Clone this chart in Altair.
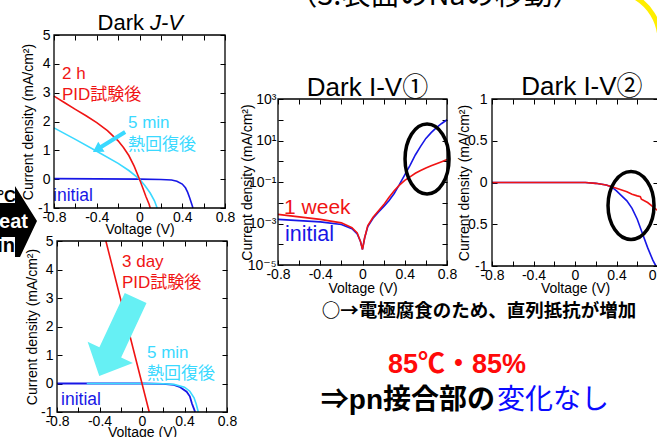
import altair as alt
import pandas as pd

SANS = "Liberation Sans"
JP = "Liberation Sans, Noto Sans CJK JP"
CJK = "Noto Sans CJK JP"
SUP = "Liberation Sans, DejaVu Sans"
RED = "#f01414"
BLUE = "#1717e6"
CYAN = "#3ad9ff"
CYAN_ARROW = "#66f0f4"

# ---------------- Dark J-V (2 h PID) ----------------
p1_init_v = [-0.8, -0.4, 0.0, 0.2, 0.3, 0.35, 0.4, 0.43, 0.45, 0.47, 0.49, 0.5]
p1_init_j = [0.02, 0.01, 0.0, -0.01, -0.03, -0.07, -0.17, -0.3, -0.45, -0.65, -0.88, -1.0]
p1_heat_v = [-0.8, -0.6, -0.4, -0.2, -0.1, 0.0, 0.05, 0.1, 0.14, 0.165]
p1_heat_j = [1.78, 1.38, 0.97, 0.55, 0.3, 0.0, -0.22, -0.48, -0.75, -1.0]
p1_pid_v = [-0.8, -0.7, -0.6, -0.5, -0.4, -0.3, -0.2, -0.15, -0.1, -0.05, 0.0, 0.03, 0.06, 0.09, 0.1]
p1_pid_j = [2.88, 2.65, 2.42, 2.2, 1.96, 1.68, 1.33, 1.1, 0.82, 0.45, 0.0, -0.3, -0.6, -0.87, -1.0]

# ---------------- Dark J-V (3 day PID) ----------------
p2_init_v = [-0.8, 0.0, 0.2, 0.3, 0.36, 0.42, 0.45, 0.47, 0.49, 0.5]
p2_init_j = [0.0, 0.0, -0.01, -0.05, -0.13, -0.29, -0.45, -0.7, -0.9, -1.0]
p2_heat_v = [-0.52, 0.0, 0.2, 0.3, 0.4, 0.45, 0.49, 0.51, 0.53]
p2_heat_j = [0.0, 0.0, -0.01, -0.03, -0.13, -0.27, -0.5, -0.72, -1.0]
p2_pid_v = [-0.34, 0.0, 0.068]
p2_pid_j = [5.0, 0.0, -1.0]

# ---------------- Dark I-V (1), |J| on log axis ----------------
p3_v = [-0.8, -0.6, -0.4, -0.2, -0.1, -0.05, -0.02, 0.0, 0.02, 0.05, 0.1, 0.15, 0.2, 0.25,
        0.3, 0.35, 0.4, 0.45, 0.5, 0.55, 0.6, 0.65, 0.7, 0.75, 0.8]
p3_init_j = [1.58e-3, 1.38e-3, 1.2e-3, 8.9e-4, 5.6e-4, 3.16e-4, 1.41e-4, 5.6e-5, 2.0e-4, 7.1e-4,
             1.78e-3, 3.5e-3, 6.5e-3, 1.26e-2, 2.8e-2, 7.6e-2, 0.219, 0.63, 2.0, 5.2, 12.6,
             24.0, 41.7, 66.0, 100.0]
p3_week_j = [2.75e-3, 2.09e-3, 1.58e-3, 1.07e-3, 6.3e-4, 3.5e-4, 1.41e-4, 5.6e-5, 2.0e-4, 7.9e-4,
             2.0e-3, 4.0e-3, 7.9e-3, 1.78e-2, 3.8e-2, 7.1e-2, 0.12, 0.178, 0.263, 0.355, 0.468,
             0.6, 0.76, 0.95, 1.2]

# ---------------- Dark I-V (2), linear axis ----------------
p4_init_v = [-0.8, 0.1, 0.2, 0.3, 0.35, 0.4, 0.45, 0.5, 0.55, 0.6, 0.65, 0.7, 0.75, 0.78]
p4_init_j = [0.0, 0.0, -0.01, -0.03, -0.05, -0.1, -0.16, -0.22, -0.31, -0.44, -0.61, -0.78, -0.93, -1.0]
p4_week_v = [-0.8, 0.1, 0.2, 0.3, 0.4, 0.5, 0.55, 0.6, 0.63, 0.64, 0.7, 0.75, 0.8]
p4_week_j = [0.0, 0.0, -0.01, -0.03, -0.07, -0.11, -0.14, -0.16, -0.17, -0.2, -0.24, -0.29, -0.34]

# annotation labels: (voltage, current density, text)
p1_red_labels = [(-0.725, 3.647, "2 h"), (-0.725, 2.902, "PID試験後")]
p1_cyan_labels = [(-0.108, 1.948, "5 min"), (-0.108, 1.185, "熱回復後")]
p1_blue_labels = [(-0.809, -0.584, "initial")]
p2_red_labels = [(-0.188, 4.263, "3 day"), (-0.188, 3.526, "PID試験後")]
p2_cyan_labels = [(0.047, 1.070, "5 min"), (0.047, 0.333, "熱回復後")]
p2_blue_labels = [(-0.762, -0.579, "initial")]
p3_red_labels = [(-0.743, 5.58e-3, "1 week")]
p3_blue_labels = [(-0.734, 2.79e-4, "initial")]

XT = [-0.8, -0.6, -0.4, -0.2, 0, 0.2, 0.4, 0.6, 0.8]
YT_JV = [-1, 0, 1, 2, 3, 4, 5]
YT_LOG = [1e-5, 1e-4, 1e-3, 1e-2, 1e-1, 1, 10, 100, 1000]
YT_IV = [-1, -0.5, 0, 0.5, 1]

XLAB = "abs(round(datum.value * 10)) % 4 == 0 ? '' + datum.value : ''"
NUMLAB = "'' + datum.value"
E = "round(log(datum.value) / LN10)"
LOGLAB = (f"{E} == 3 ? '10³' : {E} == 1 ? '10¹' : {E} == -1 ? '10⁻¹' : "
          f"{E} == -3 ? '10⁻³' : {E} == -5 ? '10⁻⁵' : ''")

ELLIPSE_3 = "M-22,0A22,35,0,1,0,22,0A22,35,0,1,0,-22,0Z"
ELLIPSE_4 = "M-23,0A23,34,0,1,0,23,0A23,34,0,1,0,-23,0Z"
BIG_ARROW = "M-12,-43L12,-43L12,17L25,17L0,43L-25,17L-12,17Z"
THIN_ARROW = "M-19,-2L9,-2L9,-6L19,0L9,6L9,2L-19,2Z"
HEAT_BADGE = "M5,-35L27,0L10,36L5,36L5,16L-40,16L-40,-18L5,-18Z"
YELLOW_ARC = "M23,-44A50,50,0,0,1,50,0"

# whole slide canvas and the pixel box of each panel (left, right, top, bottom)
W, H = 657, 437
BOX1 = (54, 225, 35, 208)
BOX2 = (57, 227, 241, 412)
BOX3 = (278, 447, 99, 265)
BOX4 = (492, 658, 99, 266)
NOTE_BOX = (278, 657, 298, 437)


def xscale(box):
    return alt.Scale(domain=[-0.8, 0.8], range=[box[0], box[1]], nice=False, zero=False)


def yscale(box, lo, hi, kind="linear"):
    return alt.Scale(type=kind, domain=[lo, hi], range=[box[3], box[2]], nice=False, zero=False)


def ax_bottom(box, title_y):
    base = box[3] - 5
    return alt.Axis(orient="bottom", values=XT, labelExpr=XLAB, offset=base - H, tickSize=5,
                    domain=False, labelPadding=2, labelFlush=False, labelOverlap=False,
                    title="Voltage (V)", titleX=(box[0] + box[1]) / 2, titleY=title_y - base,
                    titleBaseline="middle")


def ax_left(box, values, expr, title_x, pad, font=SANS):
    base = box[0] + 5
    return alt.Axis(orient="left", values=values, labelExpr=expr, offset=-base, tickSize=5,
                    domain=False, labelPadding=pad, labelFlush=False, labelOverlap=False,
                    labelFont=font, title="Current density (mA/cm²)", titleX=title_x - base,
                    titleY=(box[2] + box[3]) / 2, titleBaseline="middle")


def ax_top(box):
    return alt.Axis(orient="top", values=XT, labels=False, offset=-(box[2] + 5), tickSize=5,
                    domain=False, title="")


def ax_right(box, values):
    return alt.Axis(orient="right", values=values, labels=False, offset=(box[1] - 5) - W,
                    tickSize=5, domain=False, title="")


def line(v, j, color, xs, ys, xaxis=None, yaxis=None, width=1.6):
    df = pd.DataFrame({"v": v, "j": j})
    return alt.Chart(df).mark_line(color=color, strokeWidth=width).encode(
        x=alt.X("v:Q", scale=xs, axis=xaxis), y=alt.Y("j:Q", scale=ys, axis=yaxis))


def texts(rows, xs, ys, color, size, weight="normal", align="left", baseline="middle",
          style="normal", font=JP, dx=0, xaxis=None, yaxis=None):
    df = pd.DataFrame(rows, columns=["v", "j", "t"])
    return alt.Chart(df).mark_text(color=color, fontSize=size, fontWeight=weight, align=align,
                                   baseline=baseline, fontStyle=style, font=font, dx=dx).encode(
        x=alt.X("v:Q", scale=xs, axis=xaxis), y=alt.Y("j:Q", scale=ys, axis=yaxis), text="t:N")


def shape(v, j, path, xs, ys, **mark):
    df = pd.DataFrame({"v": [v], "j": [j]})
    return alt.Chart(df).mark_point(shape=path, size=4, opacity=1, **mark).encode(
        x=alt.X("v:Q", scale=xs, axis=None), y=alt.Y("j:Q", scale=ys, axis=None))


def frame(xlo, xhi, ylo, yhi, xs, ys):
    df = pd.DataFrame({"v": [xlo], "v2": [xhi], "j": [ylo], "j2": [yhi]})
    return alt.Chart(df).mark_rect(fill="transparent", stroke="black", strokeWidth=1.3).encode(
        x=alt.X("v:Q", scale=xs, axis=None), x2="v2:Q",
        y=alt.Y("j:Q", scale=ys, axis=None), y2="j2:Q")


def panel(*layers):
    return alt.layer(*layers).resolve_axis(x="independent", y="independent")


# ---- Dark J-V after 2 h PID ----
xs, ys = xscale(BOX1), yscale(BOX1, -1, 5)
p1 = panel(
    line(p1_init_v, p1_init_j, BLUE, xs, ys, xaxis=ax_bottom(BOX1, 229),
         yaxis=ax_left(BOX1, YT_JV, NUMLAB, 28, 4)),
    line(p1_heat_v, p1_heat_j, CYAN, xs, ys),
    line(p1_pid_v, p1_pid_j, RED, xs, ys),
    shape(-0.285, 1.289, THIN_ARROW, xs, ys, filled=True, color=CYAN, angle=148),
    texts(p1_red_labels, xs, ys, RED, 17, xaxis=ax_top(BOX1), yaxis=ax_right(BOX1, YT_JV)),
    texts(p1_cyan_labels, xs, ys, CYAN, 17),
    texts(p1_blue_labels, xs, ys, BLUE, 17.5),
    texts([(0.098, 5.173, "Dark")], xs, ys, "black", 22, align="right",
          baseline="alphabetic", font=SANS, dx=-6),
    texts([(0.098, 5.173, "J-V")], xs, ys, "black", 22, align="left",
          baseline="alphabetic", style="italic", font=SANS),
    shape(-1.2117, -1.451, HEAT_BADGE, xs, ys, filled=True, color="black"),
    texts([(-1.156, -0.792, "85°C")], xs, ys, "black", 16.5,
          weight="bold", align="right", baseline="alphabetic", font=SANS),
    texts([(-1.165, -2.526, "5 min")], xs, ys, "black", 20,
          weight="bold", align="right", baseline="alphabetic", font=SANS),
    texts([(-1.043, -1.694, "Heat")], xs, ys, "white", 20, weight="bold", align="right",
          baseline="alphabetic", font=SANS),
    frame(-0.8, 0.8, -1, 5, xs, ys),
)

# ---- Dark J-V after 3 day PID ----
xs, ys = xscale(BOX2), yscale(BOX2, -1, 5)
p2 = panel(
    line(p2_init_v, p2_init_j, BLUE, xs, ys, xaxis=ax_bottom(BOX2, 432),
         yaxis=ax_left(BOX2, YT_JV, NUMLAB, 32, 4), width=1.8),
    line(p2_heat_v, p2_heat_j, CYAN, xs, ys),
    line(p2_pid_v, p2_pid_j, RED, xs, ys),
    shape(-0.231, 1.632, BIG_ARROW, xs, ys, filled=True, color=CYAN_ARROW, angle=25),
    texts(p2_red_labels, xs, ys, RED, 17, xaxis=ax_top(BOX2), yaxis=ax_right(BOX2, YT_JV)),
    texts(p2_cyan_labels, xs, ys, CYAN, 17),
    texts(p2_blue_labels, xs, ys, BLUE, 17.5),
    frame(-0.8, 0.8, -1, 5, xs, ys),
)

# ---- Dark I-V (1), log scale; the slide heading sits above it ----
xs, ys = xscale(BOX3), yscale(BOX3, 1e-5, 1e3, kind="log")
p3 = panel(
    line(p3_v, p3_init_j, BLUE, xs, ys, xaxis=ax_bottom(BOX3, 288),
         yaxis=ax_left(BOX3, YT_LOG, LOGLAB, 247, 2, font=SUP)),
    line(p3_v, p3_week_j, RED, xs, ys),
    shape(0.611, 1.28, ELLIPSE_3, xs, ys, filled=False, stroke="black", strokeWidth=3.5),
    texts(p3_red_labels, xs, ys, RED, 21, xaxis=ax_top(BOX3), yaxis=ax_right(BOX3, YT_LOG)),
    texts(p3_blue_labels, xs, ys, BLUE, 21.5),
    texts([(0.047, 1396, "Dark I-V①")], xs, ys, "black", 26, align="center",
          baseline="alphabetic"),
    texts([(0.686, 3.39e7, "（3.表面のNaの移動）")], xs, ys, "black", 29, align="center",
          baseline="alphabetic", font=CJK),
    frame(-0.8, 0.8, 1e-5, 1e3, xs, ys),
)

# ---- Dark I-V (2), linear scale ----
xs, ys = xscale(BOX4), yscale(BOX4, -1, 1)
p4 = panel(
    line(p4_init_v, p4_init_j, BLUE, xs, ys, xaxis=ax_bottom(BOX4, 288),
         yaxis=ax_left(BOX4, YT_IV, NUMLAB, 464, 5)),
    line(p4_week_v, p4_week_j, RED, xs, ys),
    shape(0.540, -0.275, ELLIPSE_4, xs, ys, filled=False, stroke="black", strokeWidth=3.5),
    texts([(0.067, 1.048, "Dark I-V②")], xs, ys, "black", 26, align="center",
          baseline="alphabetic", xaxis=ax_top(BOX4), yaxis=ax_right(BOX4, YT_IV)),
    shape(0.337, 1.707, YELLOW_ARC, xs, ys, filled=False, stroke="#ffee00", strokeWidth=5),
    frame(-0.8, 0.8, -1, 1, xs, ys),
)

# ---- conclusions under the I-V panels ----
nx = alt.Scale(domain=[0, 379], range=[NOTE_BOX[0], NOTE_BOX[1]], nice=False, zero=False)
ny = alt.Scale(domain=[0, 139], range=[NOTE_BOX[2], NOTE_BOX[3]], nice=False, zero=False)
notes = alt.layer(
    texts([(201, 13, "○→電極腐食のため、直列抵抗が増加")], nx, ny, "black", 18.5,
          weight="bold", align="center", font=CJK),
    texts([(179, 67, "85℃・85%")], nx, ny, "#ff0a0a", 27, weight="bold", align="center"),
    texts([(217, 103, "⇒pn接合部の")], nx, ny, "black", 28, weight="bold", align="right"),
    texts([(219, 103, "変化なし")], nx, ny, "#0a0aff", 28, align="left"),
)

chart = alt.layer(p1, p2, p3, p4, notes).resolve_scale(
    x="independent", y="independent"
).resolve_axis(
    x="independent", y="independent"
).properties(
    width=W, height=H,
    autosize=alt.AutoSizeParams(type="none"),
    padding=0,
    background="white",
).configure_view(
    stroke="transparent"
).configure_axis(
    grid=False, labelFont=SANS, titleFont=SANS, labelFontSize=14, titleFontSize=14,
    titleFontWeight="normal", labelColor="black", titleColor="black", tickColor="black",
    tickWidth=1,
)

chart.save("out.html", embed_options={"renderer": "svg", "actions": False})
